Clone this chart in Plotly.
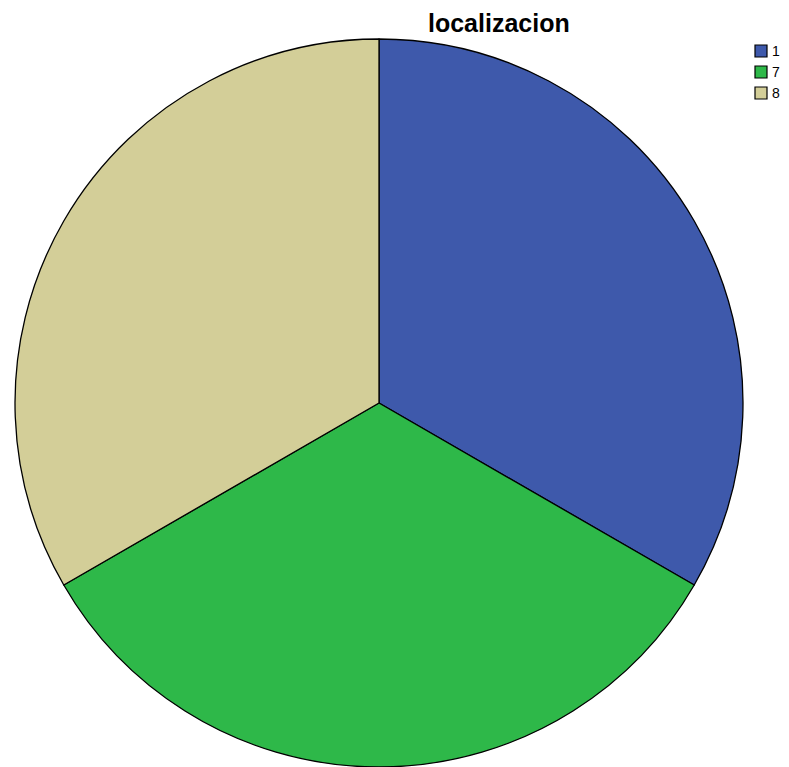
import plotly.graph_objects as go

categories = ["1", "7", "8"]
values = [1, 1, 1]
colors = ["#3E59AB", "#2EB849", "#D3CE98"]
title_text = "localizacion"

# The page body has an 8px default margin; work in window pixels and shift.
OFF = 8
W, H = 789 - OFF, 767 - OFF


def px(x):
    return (x - OFF) / W


def py(y):
    return 1 - (y - OFF) / H


cx, cy, r = 379, 404, 365

fig = go.Figure(
    go.Pie(
        labels=categories,
        values=values,
        sort=False,
        direction="clockwise",
        rotation=0,
        textinfo="none",
        hoverinfo="label+percent",
        marker=dict(colors=colors, line=dict(color="black", width=1.3)),
        domain=dict(x=[px(cx - r), px(cx + r)], y=[0, py(cy - r)]),
        showlegend=False,
    )
)

# Manual legend (swatch + label), built from the category / colour lists
sw = 12
x0 = 755
y_first = 51
step = 21
shapes = []
annotations = []
for i, (cat, col) in enumerate(zip(categories, colors)):
    yc = y_first + i * step
    shapes.append(dict(
        type="rect", xref="paper", yref="paper",
        x0=px(x0), x1=px(x0 + sw),
        y0=py(yc + sw / 2), y1=py(yc - sw / 2),
        fillcolor=col, line=dict(color="black", width=1.2),
    ))
    annotations.append(dict(
        text=cat, xref="paper", yref="paper",
        x=px(x0 + sw + 3), y=py(yc),
        xanchor="left", yanchor="middle", showarrow=False,
        font=dict(size=14, color="black", family="Liberation Sans, Arial, sans-serif"),
    ))

annotations.append(dict(
    text="<b>" + title_text + "</b>", xref="paper", yref="paper",
    x=px(499), y=py(23), xanchor="center", yanchor="middle", showarrow=False,
    font=dict(size=25, color="black", family="Liberation Sans, Arial, sans-serif"),
))

fig.update_layout(
    width=W,
    height=H,
    margin=dict(l=0, r=0, t=0, b=0),
    paper_bgcolor="white",
    plot_bgcolor="white",
    font=dict(family="Liberation Sans, Arial, sans-serif", color="black"),
    shapes=shapes,
    annotations=annotations,
    showlegend=False,
)

fig.write_html("out.html")
